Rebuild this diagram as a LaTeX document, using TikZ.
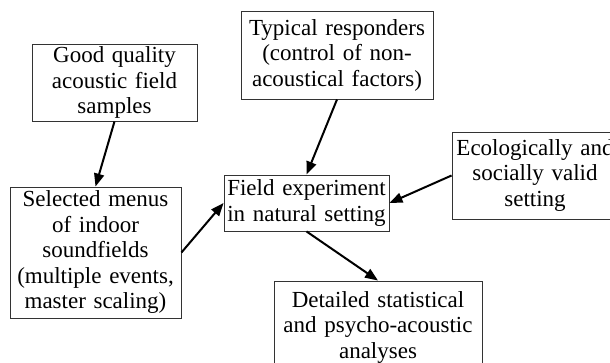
\documentclass[tikz,border=0pt]{standalone}
\usepackage{fontspec}
\setmainfont{Liberation Serif}
\usetikzlibrary{arrows.meta}
\begin{document}
\begin{tikzpicture}[x=1pt,y=-1pt,
  box/.style={draw=black!80, line width=0.9pt, rectangle, inner sep=0pt, align=center,
    font=\fontsize{23}{25.5}\selectfont},
  arr/.style={line width=2pt, -{Triangle[length=13pt,width=10pt]}}]
\clip (0,0) rectangle (610,363);
\fill[white] (0,0) rectangle (610,363);
\node[box, minimum width=165pt, minimum height=77pt, text width=161pt] (A) at (114.5,82.5)
  {Good quality\\acoustic field\\samples};
\node[box, minimum width=192pt, minimum height=88pt, text width=188pt] (B) at (337,55)
  {Typical responders\\(control of non-\\acoustical factors)};
\node[box, minimum width=166pt, minimum height=87pt, text width=162pt] (C) at (535,175.5)
  {Ecologically and\\socially valid\\setting};
\node[box, minimum width=165pt, minimum height=56pt, text width=161pt] (D) at (306.5,203)
  {Field experiment\\in natural setting};
\node[box, minimum width=171pt, minimum height=131pt, text width=167pt] (E) at (95.5,252.5)
  {Selected menus\\of indoor\\soundfields\\(multiple events,\\master scaling)};
\node[box, minimum width=208pt, minimum height=93pt, text width=204pt] (F) at (378,327.5)
  {Detailed statistical\\and psycho-acoustic\\analyses};
\draw[arr] (A.south) -- (E.north);
\draw[arr] (B.south) -- (D.north);
\draw[arr] (C.west) -- (D.east);
\draw[arr] (E.east) -- (D.west);
\draw[arr] (D.south) -- (F.north);
\end{tikzpicture}
\end{document}
